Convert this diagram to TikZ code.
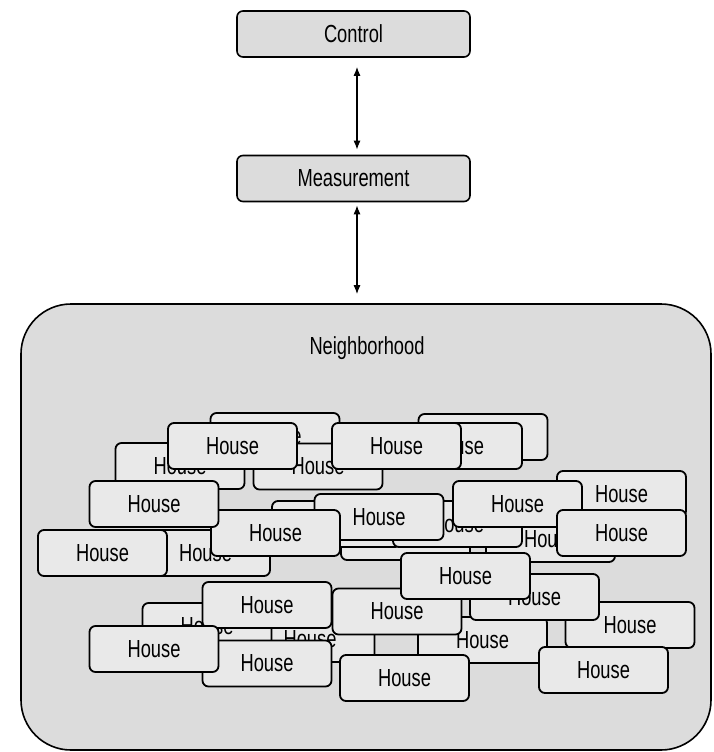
\documentclass[tikz,border=0pt]{standalone}
\usepackage{fontspec}
\setmainfont{Liberation Sans}
\usepackage{graphicx}
\usetikzlibrary{arrows.meta}
\definecolor{houseg}{RGB}{233,233,233}
\definecolor{boxg}{RGB}{220,220,220}
\newcommand{\vstr}[1]{\scalebox{1}[1.35]{#1}}
\begin{document}
\begin{tikzpicture}[x=1pt,y=-1pt,
  txt/.style={font=\fontsize{18.3}{20}\selectfont, inner sep=0pt},
  house/.style={txt, draw=black, line width=1.8pt, fill=houseg, rounded corners=6pt,
    minimum width=129pt, minimum height=46pt},
  topbox/.style={txt, draw=black, line width=1.6pt, fill=boxg, rounded corners=6pt,
    minimum width=233pt, minimum height=46pt},
  dbl/.style={line width=1.2pt, {Latex[length=9pt,width=7pt]}-{Latex[length=9pt,width=7pt]}}]
\fill[white] (0,0) rectangle (713,752);
\useasboundingbox (0,0) rectangle (713,752);

\node[topbox] (ctrl) at (353.5,34) {\vstr{Control}};
\node[topbox] (meas) at (353.5,178.5) {\vstr{Measurement}};
\node[draw=black, line width=1.6pt, fill=boxg, rounded corners=50pt,
  minimum width=690pt, minimum height=446pt, inner sep=0pt] (nb) at (366,527) {};
\node[txt] (nbl) at (367,348) {\vstr{Neighborhood}};

\coordinate (a1s) at ([xshift=3.5pt,yshift=-9pt]ctrl.south);
\coordinate (a1e) at ([xshift=3.5pt,yshift=5pt]meas.north);
\coordinate (a2s) at ([xshift=3.5pt,yshift=-3pt]meas.south);
\coordinate (a2e) at (a2s |- nb.north);
\draw[dbl] (a1s) -- (a1e);
\draw[dbl] (a2s) -- ([yshift=9pt]a2e);

% houses, back to front
\node[house] (hJ) at (483,437) {\vstr{House}};
\node[house] (hI) at (457.5,446) {\vstr{House}};
\node[house] (hF) at (275,436) {\vstr{House}};
\node[house] (hG) at (318,466.5) {\vstr{House}};
\node[house] (hD) at (180,466) {\vstr{House}};
\node[house] (hE) at (232.5,446) {\vstr{House}};
\node[house] (hH) at (396.5,446) {\vstr{House}};
\node[house] (hL) at (621.5,494) {\vstr{House}};
\node[house] (hQ) at (405.5,537) {\vstr{House}};
\node[house] (hP) at (336.5,524) {\vstr{House}};
\node[house] (hS) at (550.5,539) {\vstr{House}};
\node[house] (hR) at (457.5,524) {\vstr{House}};
\node[house] (hK) at (517.5,504) {\vstr{House}};
\node[house] (hM) at (621.5,533) {\vstr{House}};
\node[house] (hN) at (379,517) {\vstr{House}};
\node[house] (hB) at (205.5,553) {\vstr{House}};
\node[house] (hO) at (275.5,533) {\vstr{House}};
\node[house] (hC) at (154,504) {\vstr{House}};
\node[house] (hA) at (102.5,553) {\vstr{House}};
\node[house] (hV) at (630,625) {\vstr{House}};
\node[house] (hX) at (482.5,640) {\vstr{House}};
\node[house] (hBB) at (310,639) {\vstr{House}};
\node[house] (hY) at (397,611.5) {\vstr{House}};
\node[house] (hU) at (534.5,597) {\vstr{House}};
\node[house] (hT) at (465.5,576) {\vstr{House}};
\node[house] (hW) at (603.5,670) {\vstr{House}};
\node[house] (hZ) at (404.5,678) {\vstr{House}};
\node[house] (hEE) at (207,626) {\vstr{House}};
\node[house] (hAA) at (267,605) {\vstr{House}};
\node[house] (hCC) at (267,663.5) {\vstr{House}};
\node[house] (hDD) at (154,649) {\vstr{House}};
\end{tikzpicture}
\end{document}
